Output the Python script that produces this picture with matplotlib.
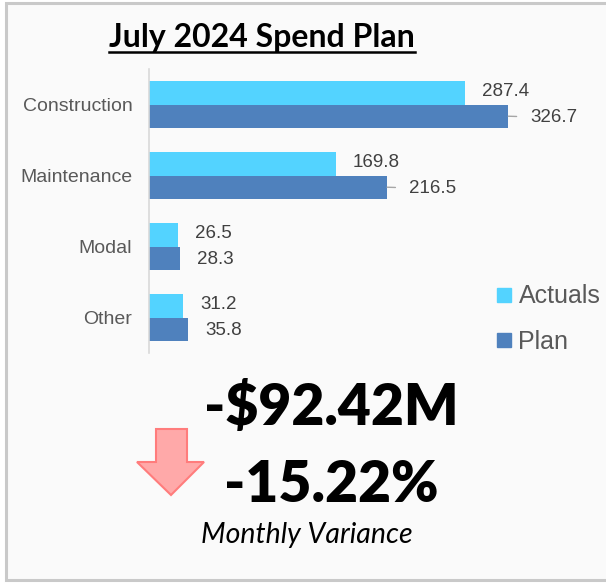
import numpy as np
import matplotlib
matplotlib.use("Agg")
from matplotlib import pyplot as plt
from matplotlib.lines import Line2D
from matplotlib.patches import Rectangle, Polygon

# =============================================================================
# Data:
# =============================================================================

CATEGORIES = ["Construction", "Maintenance", "Modal", "Other"]
ACTUALS = [287.4, 169.8, 26.5, 31.2]
PLAN = [326.7, 216.5, 28.3, 35.8]
SERIES = ["Actuals", "Plan"]

TITLE = "July 2024 Spend Plan"
VARIANCE_DOLLARS = "-$92.42M"
VARIANCE_PCT = "-15.22%"
VARIANCE_LABEL = "Monthly Variance"

COLORS = {"Actuals": "#53D3FF", "Plan": "#4F81BD"}
HEADLINE_FONT = "Lato"
CHART_FONT = "Liberation Sans"

W, H = 606, 583

# =============================================================================
# Figure and frame:
# =============================================================================

fig = plt.figure(figsize=(W / 100, H / 100), dpi=100, facecolor="white")
fig.patches.append(Rectangle((6 / W, 3 / H), 1.0, 577 / H, transform=fig.transFigure,
                             facecolor="#FAFAFA", edgecolor="#C9C9C9", linewidth=2.2,
                             zorder=-10))

# =============================================================================
# Bar chart:
# =============================================================================

ax = fig.add_axes([149 / W, (H - 353) / H, (600 - 149) / W, 284 / H])
ax.set_facecolor("none")
ax.set_zorder(2)

y = np.arange(len(CATEGORIES))
bar_h = 0.33
bars_a = ax.barh(y - bar_h / 2, ACTUALS, height=bar_h, color=COLORS["Actuals"], label="Actuals")
bars_p = ax.barh(y + bar_h / 2, PLAN, height=bar_h, color=COLORS["Plan"], label="Plan")

ax.set_ylim(len(CATEGORIES) - 0.5, -0.5)
ax.set_xlim(0, (600 - 149) / 1.0997)
ax.set_yticks(y)
ax.set_yticklabels(CATEGORIES, fontsize=14, color="#595959", family=CHART_FONT)
ax.tick_params(axis="y", length=0, pad=12)
ax.set_xticks([])
for side in ["top", "right", "bottom"]:
    ax.spines[side].set_visible(False)
ax.spines["left"].set_color("#D9D9D9")
ax.spines["left"].set_linewidth(1.2)

for i in range(len(CATEGORIES)):
    ax.annotate(f"{ACTUALS[i]:.1f}", xy=(ACTUALS[i], y[i] - bar_h / 2),
                xytext=(12, 1), textcoords="offset points", ha="left", va="center",
                fontsize=13.5, color="#404040", family=CHART_FONT)
    if PLAN[i] > 100:
        ax.annotate(f"{PLAN[i]:.1f}", xy=(PLAN[i], y[i] + bar_h / 2),
                    xytext=(16, -1), textcoords="offset points", ha="left", va="center",
                    fontsize=13.5, color="#404040", family=CHART_FONT,
                    arrowprops=dict(arrowstyle="-", color="#A6A6A6", lw=1,
                                    shrinkA=8, shrinkB=0))
    else:
        ax.annotate(f"{PLAN[i]:.1f}", xy=(PLAN[i], y[i] + bar_h / 2),
                    xytext=(12, -1), textcoords="offset points", ha="left", va="center",
                    fontsize=13.5, color="#404040", family=CHART_FONT)

handles = [Line2D([], [], linestyle="none", marker="s", markersize=10,
                  markerfacecolor=COLORS[s], markeredgecolor=COLORS[s]) for s in SERIES]
ax.legend(handles, SERIES, loc="center left", bbox_to_anchor=(481 / W, (H - 319) / H),
          bbox_transform=fig.transFigure, frameon=False, handlelength=0.8,
          handletextpad=0.2, labelspacing=0.85, borderpad=0,
          prop={"family": CHART_FONT, "size": 18}, labelcolor="#595959")

# =============================================================================
# Title and variance text:
# =============================================================================

title = fig.text(262 / W, (H - 47) / H, TITLE, ha="center", va="baseline",
                 fontsize=23, fontweight="bold", family=HEADLINE_FONT, color="black")

fig.text(331 / W, (H - 425) / H, VARIANCE_DOLLARS, ha="center", va="baseline",
         fontsize=41, fontweight="heavy", family=HEADLINE_FONT, color="black")
fig.text(331 / W, (H - 502) / H, VARIANCE_PCT, ha="center", va="baseline",
         fontsize=41, fontweight="heavy", family=HEADLINE_FONT, color="black")
fig.text(307 / W, (H - 543) / H, VARIANCE_LABEL, ha="center", va="baseline",
         fontsize=20.5, fontstyle="italic", family=HEADLINE_FONT, color="black")

# underline the title
fig.canvas.draw()
bb = title.get_window_extent()
fig.add_artist(Line2D([bb.x0 / W, bb.x1 / W], [(H - 52) / H, (H - 52) / H],
                      transform=fig.transFigure, color="black", linewidth=1.8))

# down arrow
arrow_px = [(156, 429), (187, 429), (187, 462), (204, 462), (171, 495),
            (137, 462), (156, 462)]
fig.patches.append(Polygon([(px / W, (H - py) / H) for px, py in arrow_px], closed=True,
                           transform=fig.transFigure, facecolor="#FFA9A9",
                           edgecolor="#FF7C7C", linewidth=1.5))

plt.savefig("out.png", dpi=100, facecolor=fig.get_facecolor())
